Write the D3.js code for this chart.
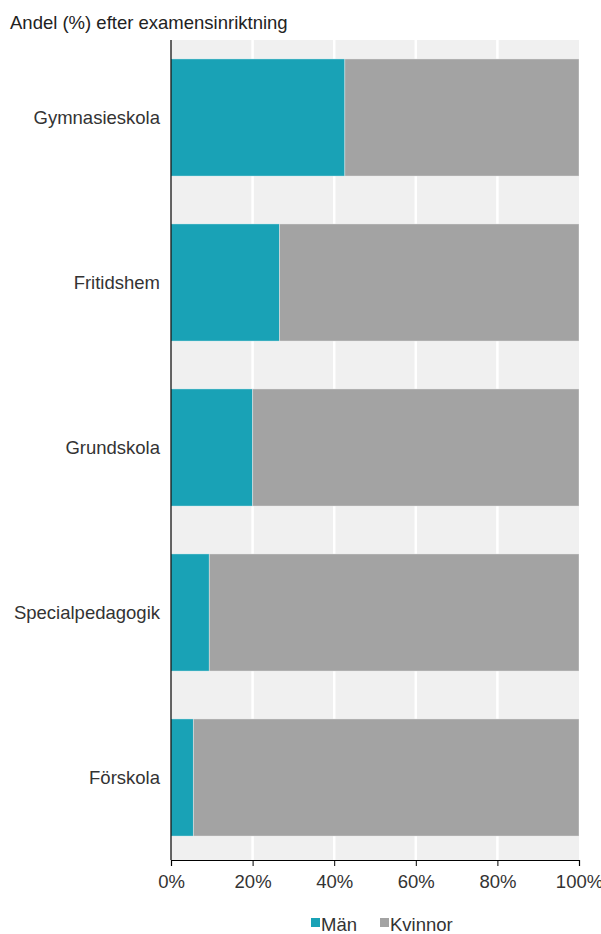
<!DOCTYPE html>
<html>
<head>
<meta charset="utf-8">
<script src="https://cdn.jsdelivr.net/npm/d3@7"></script>
<style>
  body { margin: 0; background: #fff; }
  svg { font-family: "Liberation Sans", Arial, sans-serif; }
</style>
</head>
<body>
<svg id="chart" width="601" height="934"></svg>
<script>
// Data
var categories = ["Gymnasieskola", "Fritidshem", "Grundskola", "Specialpedagogik", "Förskola"];
var man = [42.6, 26.6, 20.0, 9.4, 5.5];
var kvinnor = [57.4, 73.4, 80.0, 90.6, 94.5];
var seriesNames = ["Män", "Kvinnor"];
var seriesColors = ["#19a2b6", "#a3a3a3"];
var xTicks = [0, 20, 40, 60, 80, 100];
var title = "Andel (%) efter examensinriktning";

var svg = d3.select("#chart");
var fontSize = 18.5;

var x = d3.scaleLinear().domain([0, 100]).range([171, 579]);
var y = d3.scaleBand().domain(categories).range([35, 860]).paddingInner(0.29).paddingOuter(0.145);

var rows = categories.map(function(c, i) { return {cat: c, "Män": man[i], "Kvinnor": kvinnor[i]}; });
var stacked = d3.stack().keys(seriesNames)(rows);

// background
svg.append("rect")
    .attr("x", x(0)).attr("y", 40)
    .attr("width", x(100) - x(0)).attr("height", 860 - 40)
    .attr("fill", "#f0f0f0");

// gridlines
svg.selectAll(".grid").data(xTicks.slice(1, -1))
  .enter().append("line")
    .attr("x1", function(d) { return x(d); })
    .attr("x2", function(d) { return x(d); })
    .attr("y1", 40).attr("y2", 860)
    .attr("stroke", "#fff").attr("stroke-width", 2.5);

// bars
svg.selectAll(".series").data(stacked)
  .enter().append("g")
    .attr("fill", function(d, i) { return seriesColors[i]; })
  .selectAll("rect").data(function(d) { return d; })
  .enter().append("rect")
    .attr("x", function(d) { return x(d[0]); })
    .attr("y", function(d) { return y(d.data.cat); })
    .attr("width", function(d) { return x(d[1]) - x(d[0]); })
    .attr("height", y.bandwidth())
    .attr("stroke", "rgba(255,255,255,0.35)")
    .attr("stroke-width", 1);

// y labels
svg.selectAll(".ylab").data(categories)
  .enter().append("text")
    .attr("x", 160)
    .attr("y", function(d) { return y(d) + y.bandwidth() / 2; })
    .attr("text-anchor", "end")
    .attr("dominant-baseline", "central")
    .attr("font-size", fontSize)
    .attr("fill", "#333")
    .text(function(d) { return d; });

// y axis line
svg.append("line")
    .attr("x1", x(0)).attr("x2", x(0))
    .attr("y1", 40).attr("y2", 860)
    .attr("stroke", "#000").attr("stroke-width", 1.2);

// x axis
var xAxis = d3.axisBottom(x).tickValues(xTicks).tickSize(6).tickFormat(function(d) { return d + "%"; });
var gx = svg.append("g").attr("transform", "translate(0,860)").call(xAxis);
gx.select(".domain").attr("stroke", "#000").attr("stroke-width", 1.2);
gx.selectAll(".tick line").attr("stroke", "#000");
gx.selectAll(".tick text")
    .attr("font-family", "Liberation Sans, Arial, sans-serif")
    .attr("font-size", fontSize).attr("fill", "#333").attr("dy", "1.05em");

// title
svg.append("text")
    .attr("x", 10).attr("y", 29)
    .attr("font-size", fontSize).attr("fill", "#222")
    .text(title);

// legend
var legendX = [311, 380];
var lg = svg.selectAll(".legend").data(seriesNames)
  .enter().append("g")
    .attr("transform", function(d, i) { return "translate(" + legendX[i] + ",924)"; });
lg.append("rect")
    .attr("x", 0).attr("y", -6).attr("width", 9).attr("height", 9)
    .attr("fill", function(d, i) { return seriesColors[i]; });
lg.append("text")
    .attr("x", 10).attr("y", 0)
    .attr("dominant-baseline", "central")
    .attr("font-size", fontSize).attr("fill", "#333")
    .text(function(d) { return d; });
</script>
</body>
</html>
